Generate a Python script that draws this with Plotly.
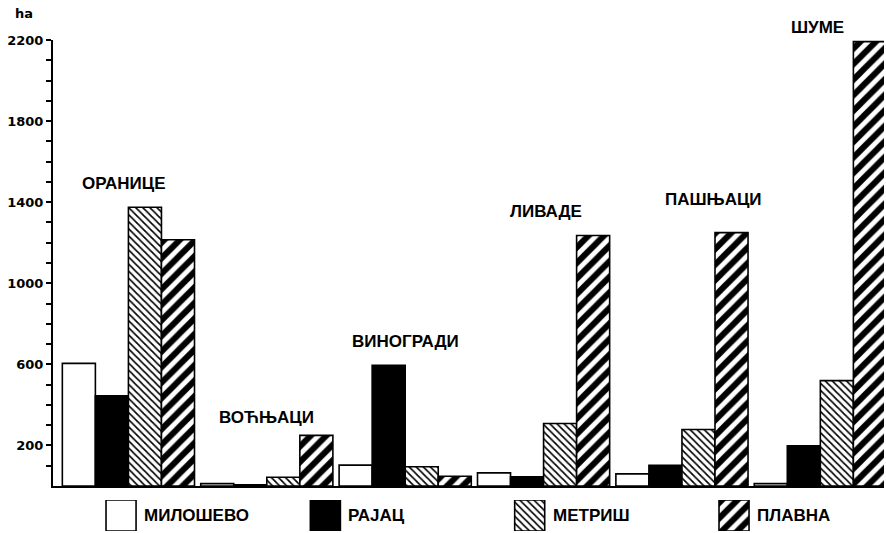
import plotly.graph_objects as go

# ---------------- data ----------------
categories = ["ОРАНИЦЕ", "ВОЋЊАЦИ", "ВИНОГРАДИ", "ЛИВАДЕ", "ПАШЊАЦИ", "ШУМЕ"]
series_names = ["МИЛОШЕВО", "РАЈАЦ", "МЕТРИШ", "ПЛАВНА"]
milosevo = [605, 12, 103, 65, 60, 12]
rajac = [445, 6, 595, 45, 102, 198]
metris = [1375, 43, 95, 308, 279, 520]
plavna = [1215, 250, 48, 1236, 1250, 2192]
y_tick_values = list(range(100, 2201, 100))
y_tick_labelled = [200, 600, 1000, 1400, 1800, 2200]
unit_label = "ha"

series_values = [milosevo, rajac, metris, plavna]

# ---------------- styles ----------------
fill_colors = ["white", "black", "white", "white"]
pattern_shapes = ["", "", "\\", "/"]
pattern_sizes = [8, 8, 5, 11]
pattern_solidity = [0.3, 0.3, 0.33, 0.55]
label_yshift = [24, 18, 24, 24, 33, 14]
label_xshift = [-4, 0, 0, 2, 32, -3]

label_font = dict(family="Liberation Sans, Arial, sans-serif", size=17,
                  color="black", weight="bold")
tick_font = dict(family="DejaVu Sans, sans-serif", size=13, color="black",
                 weight="bold")


def marker_for(i):
    return dict(color=fill_colors[i], line=dict(color="black", width=1.6),
                pattern=dict(shape=pattern_shapes[i], fgcolor="black",
                             bgcolor=fill_colors[i], size=pattern_sizes[i],
                             solidity=pattern_solidity[i], fillmode="replace"))


fig = go.Figure()

for i, (name, vals) in enumerate(zip(series_names, series_values)):
    fig.add_trace(go.Bar(
        x=categories, y=vals, name=name, marker=marker_for(i),
        xaxis="x", yaxis="y", showlegend=False,
    ))

# legend swatches: one bar per series on a hidden secondary axis
for i, name in enumerate(series_names):
    fig.add_trace(go.Bar(
        x=[name], y=[1], width=0.147, offsetgroup="legend",
        marker=marker_for(i), xaxis="x2", yaxis="y2",
        showlegend=False, hoverinfo="skip",
    ))

annotations = []
for i, cat in enumerate(categories):
    top = max(v[i] for v in series_values)
    annotations.append(dict(
        x=cat, y=top, xref="x", yref="y", text=cat, showarrow=False,
        xanchor="center", yanchor="middle", yshift=label_yshift[i],
        xshift=label_xshift[i], font=label_font,
    ))

for name in series_names:
    annotations.append(dict(
        x=name, y=0.5, xref="x2", yref="y2", text=name, showarrow=False,
        xanchor="left", yanchor="middle", xshift=21, font=label_font,
    ))

annotations.append(dict(
    x=-0.035, y=1.054, xref="paper", yref="paper", text=unit_label,
    showarrow=False, xanchor="center", yanchor="middle", font=tick_font,
))

fig.update_layout(
    width=886, height=533,
    margin=dict(l=53, r=2, t=40, b=0),
    paper_bgcolor="white", plot_bgcolor="white",
    barmode="group", bargap=0.045, bargroupgap=0,
    showlegend=False,
    annotations=annotations,
    xaxis=dict(domain=[0, 1], anchor="y", type="category",
               range=[-0.545, 5.46], showline=True, linecolor="black",
               linewidth=2, showticklabels=False, ticks="", showgrid=False,
               zeroline=False),
    yaxis=dict(domain=[0.0953, 1], anchor="x", range=[0, 2200],
               tickvals=y_tick_values,
               ticktext=[str(v) if v in y_tick_labelled else "" for v in y_tick_values],
               ticks="outside", ticklen=5, tickwidth=1.5, tickcolor="black",
               showline=True, linecolor="black", linewidth=2, showgrid=False,
               zeroline=False, tickfont=tick_font, automargin=False),
    xaxis2=dict(domain=[0, 1], anchor="y2", type="category",
                range=[-0.333, 3.734], visible=False),
    yaxis2=dict(domain=[0.004, 0.067], anchor="x2", range=[0, 1], visible=False),
)

fig.write_html("out.html",
               config={"displayModeBar": False},
               post_script="document.body.style.margin='0px';"
                           "document.body.style.overflow='hidden';")
